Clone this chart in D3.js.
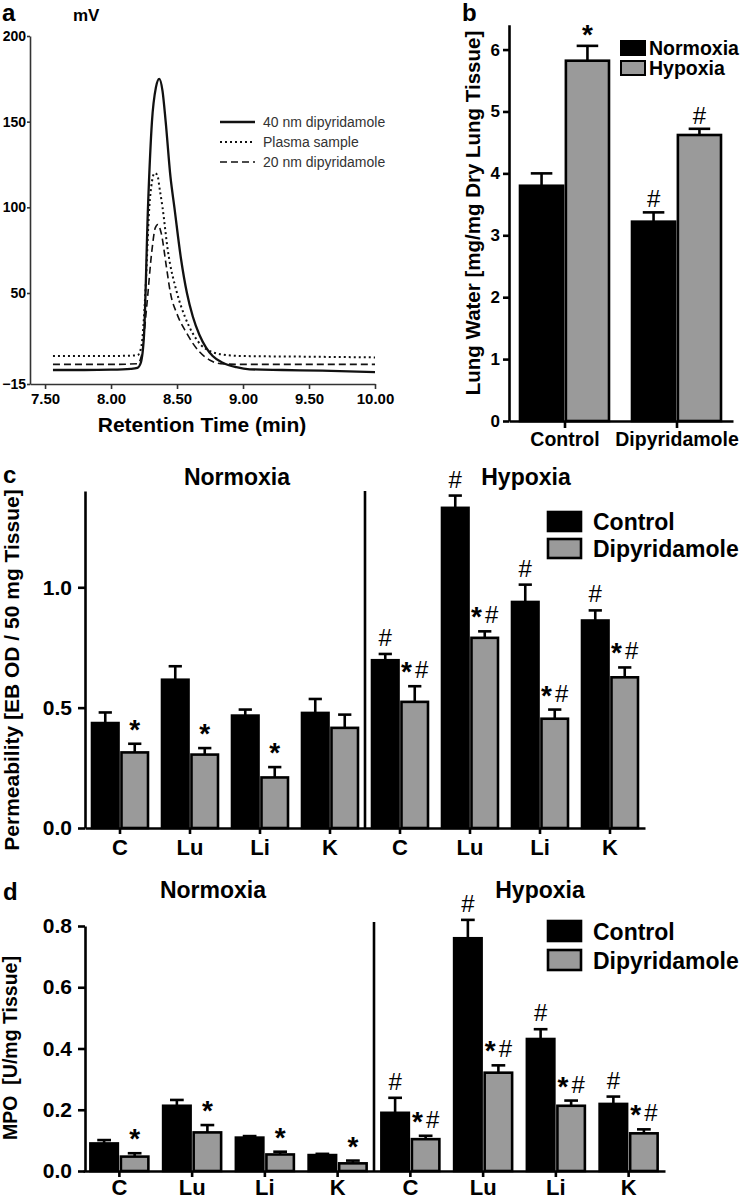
<!DOCTYPE html>
<html><head><meta charset="utf-8">
<script src="https://cdn.jsdelivr.net/npm/d3@7"></script>
<style>
html,body{margin:0;padding:0;background:#fff;}
svg{display:block;font-family:"Liberation Sans",Arial,Helvetica,sans-serif;}
</style></head><body>
<svg id="chart" width="743" height="1199"></svg>
<script>
// ---------- Panel a: chromatograms ----------
const aTicksX = [7.5, 8, 8.5, 9, 9.5, 10];
const aTickLabelsX = ["7.50", "8.00", "8.50", "9.00", "9.50", "10.00"];
const aTicksY = [-15, 50, 100, 150, 200];
const aSeriesNames = ["40 nm dipyridamole", "Plasma sample", "20 nm dipyridamole"];
const aSolid40 = [[7.56,-5],[7.8,-5],[8.0,-4.8],[8.15,-4.2],[8.2,-3.5],[8.225,0],[8.25,20],[8.28,100],[8.31,150],[8.34,170],[8.365,175],[8.39,168],[8.414,150],[8.45,118],[8.48,100],[8.53,70],[8.575,50],[8.62,33],[8.67,20],[8.72,11],[8.77,5],[8.85,0],[8.95,-3],[9.05,-4.5],[9.3,-5],[9.6,-5.5],[10.0,-6.5]];
const aDottedPlasma = [[7.56,5],[7.8,5],[8.0,5],[8.2,5.5],[8.23,12],[8.26,50],[8.29,100],[8.31,115],[8.33,120],[8.35,119],[8.37,110],[8.39,100],[8.43,75],[8.5,50],[8.56,33],[8.62,21],[8.68,13],[8.75,8.5],[8.85,6],[9.0,5],[9.5,4.5],[10.0,4]];
const aDashed20 = [[7.56,-1],[7.8,-1],[8.0,-1],[8.2,-0.5],[8.23,5],[8.27,40],[8.31,75],[8.335,88],[8.355,90],[8.38,85],[8.42,65],[8.45,50],[8.5,35],[8.575,21],[8.62,14],[8.67,8],[8.75,2],[8.83,-0.5],[9.0,-1],[9.5,-1],[10.0,-1]];

// ---------- Panel b: lung water ----------
const bGroups = ["Control", "Dipyridamole"];
const bSeries = ["Normoxia", "Hypoxia"];
const bNormoxia = [3.8, 3.22];
const bNormoxiaErr = [0.2, 0.15];
const bHypoxia = [5.82, 4.62];
const bHypoxiaErr = [0.24, 0.1];
const bNormoxiaSig = ["", "#"];
const bHypoxiaSig = ["*", "#"];
const bTicksY = [0, 1, 2, 3, 4, 5, 6];

// ---------- Panel c: permeability ----------
const organKeys = ["N-C","N-Lu","N-Li","N-K","H-C","H-Lu","H-Li","H-K"];
const organTickLabels = ["C","Lu","Li","K","C","Lu","Li","K"];
const treatSeries = ["Control", "Dipyridamole"];
const cControl = [0.436, 0.616, 0.467, 0.478, 0.697, 1.33, 0.939, 0.862];
const cControlErr = [0.044, 0.056, 0.025, 0.058, 0.026, 0.051, 0.072, 0.042];
const cDip = [0.314, 0.305, 0.21, 0.416, 0.524, 0.79, 0.454, 0.626];
const cDipErr = [0.036, 0.027, 0.043, 0.055, 0.065, 0.027, 0.038, 0.041];
const cControlSig = ["","","","","#","#","#","#"];
const cDipSig = ["*","*","*","","*#","*#","*#","*#"];
const cTicksY = [0, 0.5, 1.0];

// ---------- Panel d: MPO ----------
const dControl = [0.090, 0.213, 0.109, 0.052, 0.19, 0.76, 0.431, 0.219];
const dControlErr = [0.011, 0.019, 0.005, 0.004, 0.049, 0.06, 0.032, 0.024];
const dDip = [0.047, 0.126, 0.054, 0.025, 0.104, 0.321, 0.213, 0.123];
const dDipErr = [0.011, 0.024, 0.009, 0.009, 0.011, 0.024, 0.017, 0.013];
const dControlSig = ["","","","","#","#","#","#"];
const dDipSig = ["*","*","*","*","*#","*#","*#","*#"];
const dTicksY = [0, 0.2, 0.4, 0.6, 0.8];

const GRAY = "#9a9a9a";
const svg = d3.select("#chart");

function styleAxis(g, width, color, fontSize, weight) {
  g.selectAll(".domain").attr("stroke", color).attr("stroke-width", width);
  g.selectAll(".tick line").attr("stroke", color).attr("stroke-width", width);
  g.selectAll(".tick text").attr("fill", "#000").attr("font-size", fontSize)
    .attr("font-weight", weight).attr("font-family", "Liberation Sans, Arial, sans-serif");
}
function label(x, y, txt, size, opts = {}) {
  return svg.append("text").attr("x", x).attr("y", y).text(txt)
    .attr("font-size", size).attr("font-weight", opts.weight || "bold")
    .attr("text-anchor", opts.anchor || "start").attr("fill", opts.fill || "#000");
}
function sigText(g, x, y, txt) {
  // "*" (bold, larger) and "#" markers drawn as text glyphs
  const t = g.append("text").attr("x", x).attr("y", y).attr("text-anchor", "middle").attr("fill", "#000");
  txt.split("").forEach((ch, j) => {
    const ts = t.append("tspan").text(ch);
    if (ch === "*") ts.attr("font-size", 28).attr("font-weight", "bold").attr("dy", 3);
    else ts.attr("font-size", 24).attr("dx", j > 0 ? 3 : 0).attr("dy", j > 0 ? -3 : 0);
  });
}

// ================= Panel a =================
(function () {
  const ax = d3.scaleLinear().domain([7.386, 10]).range([30, 375]);
  const ay = d3.scaleLinear().domain([-15, 50, 200]).range([384, 293, 36]);
  const g = svg.append("g");
  const gx = g.append("g").attr("transform", "translate(0,384)")
    .call(d3.axisBottom(ax).tickValues(aTicksX).tickFormat((d, i) => aTickLabelsX[i]).tickSize(5).tickSizeOuter(0).tickPadding(4));
  styleAxis(gx, 1.6, "#333", 15, "bold");
  const gy = g.append("g").attr("transform", "translate(30,0)")
    .call(d3.axisLeft(ay).tickValues(aTicksY).tickSize(3).tickSizeOuter(0).tickPadding(1));
  styleAxis(gy, 1.6, "#333", 14, "bold");

  const line = d3.line().x(d => ax(d[0])).y(d => ay(d[1])).curve(d3.curveMonotoneX);
  const series = [
    { data: aSolid40, dash: null, w: 2.3 },
    { data: aDottedPlasma, dash: "2,3", w: 2 },
    { data: aDashed20, dash: "7,4", w: 1.6 }
  ];
  series.forEach(s => {
    g.append("path").attr("d", line(s.data)).attr("fill", "none").attr("stroke", "#111")
      .attr("stroke-width", s.w).attr("stroke-dasharray", s.dash);
  });
  // legend
  const legY = [122, 142, 162];
  series.forEach((s, i) => {
    g.append("line").attr("x1", 220).attr("x2", 255).attr("y1", legY[i]).attr("y2", legY[i])
      .attr("stroke", "#111").attr("stroke-width", s.w).attr("stroke-dasharray", s.dash);
    g.append("text").attr("x", 263).attr("y", legY[i] + 5).text(aSeriesNames[i])
      .attr("font-size", 14).attr("fill", "#333");
  });
  label(2, 21, "a", 24);
  label(73, 21, "mV", 17);
  label(202, 432, "Retention Time (min)", 21, { anchor: "middle" });
})();

// ================= Panel b =================
(function () {
  const by = d3.scaleLinear().domain([0, 6.4]).range([421, 24.8]);
  const bx0 = d3.scaleBand().domain(bGroups).range([509, 733]).padding(0);
  const bx1 = d3.scaleBand().domain(bSeries).range([-45, 44]).paddingInner(0.06);
  const g = svg.append("g");
  const gx = g.append("g").attr("transform", "translate(0,421)")
    .call(d3.axisBottom(bx0).tickSize(7).tickSizeOuter(0).tickPadding(4));
  styleAxis(gx, 2.6, "#000", 19.5, "bold");
  const gy = g.append("g").attr("transform", "translate(509,0)")
    .call(d3.axisLeft(by).tickValues(bTicksY).tickFormat(d3.format("d")).tickSize(6).tickSizeOuter(0).tickPadding(3));
  styleAxis(gy, 2.6, "#000", 17, "bold");

  const sets = [
    { name: "Normoxia", vals: bNormoxia, errs: bNormoxiaErr, sig: bNormoxiaSig, fill: "#000" },
    { name: "Hypoxia", vals: bHypoxia, errs: bHypoxiaErr, sig: bHypoxiaSig, fill: GRAY }
  ];
  const bw = bx1.bandwidth();
  sets.forEach(s => {
    bGroups.forEach((grp, i) => {
      const x = bx0(grp) + bx0.bandwidth() / 2 + bx1(s.name);
      const cx = x + bw / 2;
      const v = s.vals[i], top = by(v + s.errs[i]);
      g.append("line").attr("x1", cx).attr("x2", cx).attr("y1", by(v)).attr("y2", top).attr("stroke", "#000").attr("stroke-width", 2.6);
      g.append("line").attr("x1", cx - bw / 4).attr("x2", cx + bw / 4).attr("y1", top).attr("y2", top).attr("stroke", "#000").attr("stroke-width", 2.6);
      g.append("rect").attr("x", x).attr("y", by(v)).attr("width", bw).attr("height", by(0) - by(v))
        .attr("fill", s.fill).attr("stroke", "#000").attr("stroke-width", 2.6);
      if (s.sig[i]) sigText(g, cx, top - 5, s.sig[i]);
    });
  });
  // legend
  sets.forEach((s, i) => {
    g.append("rect").attr("x", 621).attr("y", 41 + i * 20).attr("width", 24).attr("height", 14)
      .attr("fill", s.fill).attr("stroke", "#000").attr("stroke-width", 2);
    label(649, 55 + i * 20, s.name, 19.5);
  });
  svg.append("text").attr("transform", "translate(480,213) rotate(-90)").attr("text-anchor", "middle")
    .attr("font-size", 20.5).attr("font-weight", "bold").text("Lung Water [mg/mg Dry Lung Tissue]");
  label(462, 21, "b", 24);
})();

// ================= Panels c & d =================
function groupedPanel(cfg) {
  const y = d3.scaleLinear().domain(cfg.yDomain).range(cfg.yRange);
  const x0 = d3.scaleBand().domain(organKeys).range(cfg.xRange).padding(0);
  const x1 = d3.scaleBand().domain(treatSeries).range([-cfg.half, cfg.half]).paddingInner(0.1);
  const g = svg.append("g");
  const gx = g.append("g").attr("transform", `translate(0,${cfg.yRange[0]})`)
    .call(d3.axisBottom(x0).tickFormat((d, i) => organTickLabels[i]).tickSize(6).tickSizeOuter(0).tickPadding(cfg.xPad));
  styleAxis(gx, 2.6, "#000", 22, "bold");
  const gy = g.append("g").attr("transform", `translate(${cfg.yAxisX},0)`)
    .call(d3.axisLeft(y).tickValues(cfg.yTicks).tickFormat(d3.format(".1f")).tickSize(7).tickSizeOuter(0).tickPadding(6));
  styleAxis(gy, 2.6, "#000", 21, "bold");
  // separator between Normoxia and Hypoxia
  const sepX = cfg.xRange[0] + 4 * x0.step();
  g.append("line").attr("x1", sepX).attr("x2", sepX).attr("y1", y(cfg.yDomain[1]) - cfg.sepExtra).attr("y2", y(0))
    .attr("stroke", "#000").attr("stroke-width", 2.6);

  const bw = x1.bandwidth();
  const sets = [
    { name: "Control", vals: cfg.ctrl, errs: cfg.ctrlErr, sig: cfg.ctrlSig, fill: "#000" },
    { name: "Dipyridamole", vals: cfg.dip, errs: cfg.dipErr, sig: cfg.dipSig, fill: GRAY }
  ];
  sets.forEach(s => {
    organKeys.forEach((k, i) => {
      const x = x0(k) + x0.bandwidth() / 2 + x1(s.name);
      const cx = x + bw / 2;
      const v = s.vals[i], top = y(v + s.errs[i]);
      g.append("line").attr("x1", cx).attr("x2", cx).attr("y1", y(v)).attr("y2", top).attr("stroke", "#000").attr("stroke-width", 2.6);
      g.append("line").attr("x1", cx - bw / 4).attr("x2", cx + bw / 4).attr("y1", top).attr("y2", top).attr("stroke", "#000").attr("stroke-width", 2.6);
      g.append("rect").attr("x", x).attr("y", y(v)).attr("width", bw).attr("height", y(0) - y(v))
        .attr("fill", s.fill).attr("stroke", "#000").attr("stroke-width", 2.6);
      if (s.sig[i]) sigText(g, cx, top - 8, s.sig[i]);
    });
  });
  // titles
  label(cfg.normX, cfg.titleY, "Normoxia", 23, { anchor: "middle" });
  label(cfg.hypX, cfg.titleY, "Hypoxia", 23, { anchor: "middle" });
  // legend
  sets.forEach((s, i) => {
    g.append("rect").attr("x", 548).attr("y", cfg.legY + i * cfg.legStep).attr("width", 33).attr("height", cfg.legH)
      .attr("fill", s.fill).attr("stroke", "#000").attr("stroke-width", 2.6);
    label(593, cfg.legY + i * cfg.legStep + cfg.legH - 1, s.name, 23);
  });
  // y title
  svg.append("text").attr("transform", `translate(${cfg.titleX},${cfg.titleCY}) rotate(-90)`).attr("text-anchor", "middle")
    .attr("font-size", cfg.titleSize).attr("font-weight", "bold").style("white-space", "pre").text(cfg.yTitle);
  label(3, cfg.letterY, cfg.letter, 24);
}

groupedPanel({
  yDomain: [0, 1.4], yRange: [828, 491], xRange: [85, 645], yAxisX: 85, half: 28, yTicks: cTicksY, xPad: 5,
  ctrl: cControl, ctrlErr: cControlErr, dip: cDip, dipErr: cDipErr, ctrlSig: cControlSig, dipSig: cDipSig,
  sepExtra: 0, normX: 237, hypX: 526, titleY: 485, legY: 512, legStep: 27, legH: 19,
  titleX: 19, titleCY: 670, titleSize: 21, yTitle: "Permeability [EB OD / 50 mg Tissue]", letter: "c", letterY: 483
});
groupedPanel({
  yDomain: [0, 0.8], yRange: [1171, 926], xRange: [83, 665], yAxisX: 85, half: 29, yTicks: dTicksY, xPad: 2,
  ctrl: dControl, ctrlErr: dControlErr, dip: dDip, dipErr: dDipErr, ctrlSig: dControlSig, dipSig: dDipSig,
  sepExtra: 4, normX: 213, hypX: 540, titleY: 898, legY: 921, legStep: 29, legH: 20,
  titleX: 17, titleCY: 1048, titleSize: 19.5, yTitle: "MPO  [U/mg Tissue]", letter: "d", letterY: 900
});
</script>
</body></html>
